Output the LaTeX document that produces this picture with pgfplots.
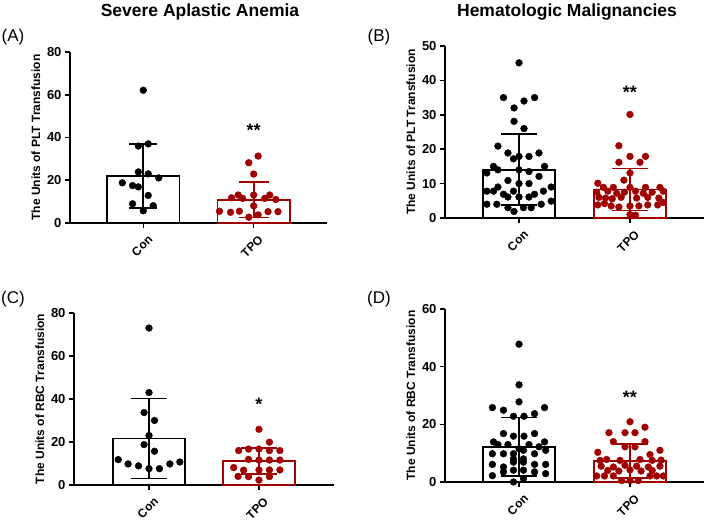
\documentclass[border=0pt]{standalone}
\usepackage{fontspec}
\setmainfont{Liberation Sans}
\usepackage{pgfplots}
\pgfplotsset{compat=1.18}
\definecolor{dred}{RGB}{160,0,0}
\pgfplotsset{
 panel/.style={
  scale only axis, anchor=south west,
  ymin=0, clip=false,
  axis x line*=bottom, axis y line*=left,
  axis line style={line width=1.6pt},
  tick style={line width=1.6pt, black},
  major tick length=5pt,
  tick align=outside,
  xtick={1,2}, xticklabels={Con,TPO},
  /pgf/number format/assume math mode=true,
  tick label style={font=\bfseries\fontsize{13}{15}\selectfont},
  xticklabel style={font=\bfseries\fontsize{12}{14}\selectfont, xshift=4pt, yshift=-5pt, rotate=45, anchor=north east, inner sep=1pt},
  label style={font=\bfseries\fontsize{12}{14}\selectfont},
 },
 pts/.style={only marks, mark=*, mark size=3.4pt, #1, mark options={fill=#1, draw=#1}},
}
\newcommand{\barplot}[3]{% color, capsize, coordinates
 \addplot[ybar, bar shift=0pt, bar width=0.655, fill=white, draw=#1, line width=1.8pt,
   error bars/y dir=both, error bars/y explicit,
   error bars/error bar style={line width=1.8pt, #1},
   error bars/error mark options={rotate=90, mark size=#2, line width=1.8pt, #1}] coordinates {#3};}
\begin{document}
\begin{tikzpicture}
\path[use as bounding box] (0,0) rectangle (709pt,522pt);
\node[font=\fontsize{17}{17}\selectfont] at (13pt,485pt) {(A)};
\node[font=\fontsize{17}{17}\selectfont] at (379pt,485pt) {(B)};
\node[font=\fontsize{17}{17}\selectfont] at (13pt,223pt) {(C)};
\node[font=\fontsize{17}{17}\selectfont] at (379pt,223pt) {(D)};
\node[font=\bfseries\fontsize{17.5}{18}\selectfont] at (200pt,510pt) {Severe Aplastic Anemia};
\node[font=\bfseries\fontsize{17.5}{18}\selectfont] at (567pt,510pt) {Hematologic Malignancies};

% Panel A
\begin{axis}[panel, at={(70pt,299pt)}, width=257pt, height=171pt, xmin=0.336, xmax=2.664, ymax=80, ytick={0,20,40,60,80}, ylabel={The Units of PLT Transfusion}]
\barplot{black}{14pt}{(1,22.0) +- (0,14.8)}
\barplot{dred}{15pt}{(2,10.8) +- (0,8.2)}
\addplot[pts=black] coordinates {(1,62.1) (0.955,36.0) (1.045,37.0) (0.955,23.9) (1.045,23.0) (1.14,21.1) (0.81,18.8) (0.903,17.5) (0.955,16.9) (1.045,12.9) (0.903,9.0) (1.09,8.1) (1,5.7)};
\addplot[pts=dred] coordinates {(2.04,31.3) (1.955,28.2) (2,22.9) (1.86,13.1) (2,13.1) (2.145,13.1) (1.8,11.8) (1.9,11.5) (2.1,11.5) (2.2,11.0) (2,8.0) (1.69,5.5) (1.79,5.0) (1.87,5.5) (2.13,5.3) (2.22,5.3) (2.04,3.8) (1.955,2.7)};
\node[font=\bfseries\fontsize{18}{18}\selectfont] at (axis cs:2,43.5) {**};
\end{axis}

% Panel B
\begin{axis}[panel, at={(445pt,304pt)}, width=259pt, height=172pt, xmin=0.333, xmax=2.667, ymax=50, ytick={0,10,20,30,40,50}, ylabel={The Units of PLT Transfusion}]
\barplot{black}{18pt}{(1,14.05) +- (0,10.35)}
\barplot{dred}{18pt}{(2,8.3) +- (0,6.1)}
\addplot[pts=black] coordinates {(1,45.1) (0.86,35.0) (1.14,35.0) (1.045,34.0) (0.955,32.0) (0.955,28.1) (1.045,26.0) (0.81,20.9) (0.9,18.9) (1.18,18.9) (1,17.9) (1.09,17.9) (0.95,17.2) (0.77,15.0) (1.23,15.0) (1,14.0) (0.71,13.1) (0.81,14.0) (1.18,12.1) (1.09,13.5) (0.9,10.9) (1,10.0) (1.09,10.0) (0.81,9.0) (1.29,9.0) (0.71,7.8) (0.77,7.8) (0.86,6.9) (0.95,7.8) (1.22,7.8) (1.14,6.9) (0.9,6.1) (1,6.1) (1.09,6.1) (0.71,4.0) (0.8,4.0) (0.9,3.0) (1.04,3.0) (1.11,3.0) (1.2,4.0) (1.29,4.9) (0.955,1.9)};
\addplot[pts=dred] coordinates {(2,30.1) (1.9,21.0) (2,17.9) (2.14,17.9) (1.9,16.2) (2.09,16.2) (2,13.1) (1.945,11.0) (1.71,10.1) (1.76,8.9) (1.85,8.9) (2,8.9) (2.14,8.9) (2.27,8.9) (1.7,7.5) (1.8,7.8) (1.88,7.2) (1.95,7.5) (2.05,7.8) (2.12,7.2) (2.2,7.5) (2.3,7.8) (1.72,6.0) (1.78,5.8) (1.84,5.6) (1.92,6.0) (2.06,5.8) (2.16,6.0) (2.26,5.8) (1.71,3.8) (1.77,4.2) (1.83,3.5) (1.9,3.2) (2,3.5) (2.08,3.5) (2.16,3.8) (2.25,3.8) (2.3,4.5) (2,1.0) (2.05,0.8)};
\node[font=\bfseries\fontsize{18}{18}\selectfont] at (axis cs:2,36.6) {**};
\end{axis}

% Panel C
\begin{axis}[panel, at={(74pt,37pt)}, width=260pt, height=172pt, xmin=0.318, xmax=2.682, ymax=80, ytick={0,20,40,60,80}, ylabel={The Units of RBC Transfusion}]
\barplot{black}{18pt}{(1,21.6) +- (0,18.6)}
\barplot{dred}{18pt}{(2,11.2) +- (0,5.9)}
\addplot[pts=black] coordinates {(1,73.0) (1,43.0) (0.955,33.7) (1.05,30.0) (1,23.0) (0.955,18.8) (1.05,15.7) (0.72,11.8) (1.28,10.7) (1.19,9.8) (0.81,9.8) (0.905,8.9) (1,7.6) (1.095,7.6)};
\addplot[pts=dred] coordinates {(2,25.9) (2.095,19.9) (1.815,16.0) (1.905,16.7) (2,16.7) (2.095,16.0) (2.19,16.0) (1.905,11.9) (2,11.6) (2.095,11.6) (2.19,11.6) (1.77,8.1) (1.86,6.9) (2,7.0) (2.095,7.0) (2.19,7.0) (1.905,3.9) (2,2.3) (2.095,3.9) (1.81,4.0)};
\node[font=\bfseries\fontsize{18}{18}\selectfont] at (axis cs:2,37.7) {*};
\end{axis}

% Panel D
\begin{axis}[panel, at={(445pt,40pt)}, width=259pt, height=173pt, xmin=0.333, xmax=2.667, ymax=60, ytick={0,20,40,60}, ylabel={The Units of RBC Transfusion}]
\barplot{black}{18pt}{(1,12.2) +- (0,10.2)}
\barplot{dred}{18pt}{(2,7.3) +- (0,5.8)}
\addplot[pts=black] coordinates {(1,47.8) (1,33.7) (1,27.8) (0.76,25.8) (1.23,25.8) (0.86,24.9) (1.14,23.7) (0.95,22.8) (1.045,22.8) (0.86,16.8) (0.95,15.9) (1.045,15.9) (1.14,16.8) (0.77,13.9) (1.23,13.9) (0.81,13.0) (0.9,13.0) (1.09,13.0) (1.18,12.2) (1,11.5) (0.76,9.8) (0.86,9.8) (0.95,9.8) (1.04,11.0) (1.14,9.8) (1.24,11.0) (0.95,8.0) (1.04,8.0) (0.76,6.1) (0.86,5.2) (0.95,6.9) (1.04,6.9) (1.14,6.1) (1.24,6.1) (0.76,2.2) (0.86,3.5) (0.95,4.1) (1.04,4.1) (1.14,3.5) (1.24,2.9) (0.95,0) (1.04,1.2)};
\addplot[pts=dred] coordinates {(2,20.9) (2.135,19.0) (1.81,17.1) (1.955,17.1) (2.045,17.1) (1.85,14.0) (2.135,14.0) (1.955,12.2) (2.045,12.2) (2.27,11.0) (1.71,10.3) (2.18,9.5) (1.73,7.5) (1.79,7.8) (1.91,7.5) (2.09,7.8) (2.2,7.5) (2.28,7.6) (1.74,5.5) (1.85,5.2) (1.955,5.8) (2.06,5.5) (2.165,5.2) (2.27,5.5) (1.8,4.0) (1.9,3.8) (2,4.2) (2.1,3.8) (2.2,4.0) (1.7,2.1) (1.77,2.1) (1.85,2.1) (2.18,2.1) (2.24,2.1) (2.3,2.1) (1.925,0.5) (2,0.5) (2.075,0.5)};
\node[font=\bfseries\fontsize{18}{18}\selectfont] at (axis cs:2,29.5) {**};
\end{axis}
\end{tikzpicture}
\end{document}
